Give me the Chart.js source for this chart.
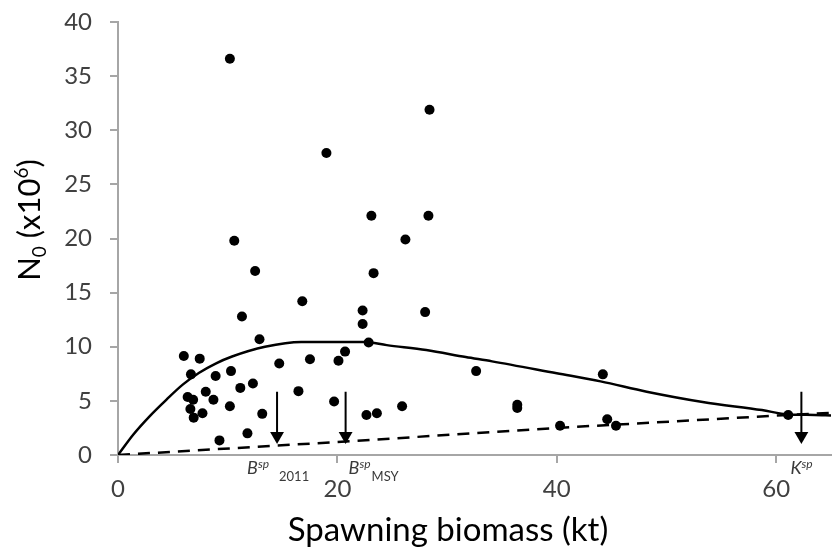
<!DOCTYPE html>
<html>
<head>
<meta charset="utf-8">
<script src="https://cdn.jsdelivr.net/npm/chart.js@4"></script>
<style>
html,body{margin:0;padding:0;background:#fff;overflow:hidden;}
canvas{display:block;}
</style>
</head>
<body>
<canvas id="c" width="839" height="553"></canvas>
<script>
// ---- data ----
const scatterX = [10.2, 28.4, 19.0, 23.1, 28.3, 10.6, 26.2, 12.5, 23.3, 16.8, 11.3, 22.3, 22.3, 28.0, 12.9, 22.85,
  6.0, 7.45, 6.65, 20.7, 20.1, 17.5, 14.7, 8.9, 10.3, 12.3, 11.15, 6.35, 6.85, 8.0, 8.7, 6.6, 7.7, 6.9, 10.2, 13.15,
  16.45, 19.7, 22.65, 23.6, 25.9, 11.8, 9.25, 32.65, 36.4, 36.4, 40.3, 44.2, 44.6, 45.4, 61.1];
const scatterY = [36.6, 31.9, 27.9, 22.1, 22.1, 19.8, 19.9, 17.0, 16.8, 14.2, 12.8, 13.35, 12.1, 13.2, 10.7, 10.4,
  9.15, 8.9, 7.45, 9.55, 8.7, 8.85, 8.45, 7.3, 7.75, 6.6, 6.2, 5.35, 5.1, 5.85, 5.1, 4.25, 3.85, 3.45, 4.5, 3.8,
  5.9, 4.95, 3.7, 3.85, 4.5, 2.0, 1.35, 7.75, 4.35, 4.65, 2.7, 7.45, 3.3, 2.7, 3.7];

const curveX = [0, 1.4, 2.9, 4.4, 5.9, 7.4, 8.9, 10.4, 13.4, 16.7, 22.5, 24.5, 28.1, 31.7, 34.1, 40, 44, 48.2, 53.3, 58.7, 61.1, 63.5, 65];
const curveY = [0, 1.9, 3.6, 5.1, 6.5, 7.6, 8.45, 9.1, 10.0, 10.45, 10.45, 10.15, 9.7, 9.05, 8.65, 7.55, 6.8, 5.85, 4.9, 4.15, 3.75, 3.7, 3.65];

const refLineX = [0, 20, 40, 61.1, 65];
const refLineY = [0, 1.2, 2.5, 3.7, 3.9];

const arrowX = [14.5, 20.75, 62.3];
const arrowTop = 5.85;
const arrowHead = 1.75;
const arrowLabelMain = ['B', 'B', 'K'];
const arrowLabelSup = ['sp', 'sp', 'sp'];
const arrowLabelSub = ['2011', 'MSY', ''];

const xTicks = [0, 20, 40, 60];
const yTicks = [0, 5, 10, 15, 20, 25, 30, 35, 40];

const xTitle = 'Spawning biomass (kt)';
const yTitleMain = 'N';
const yTitleSub = '0';
const yTitleMid = ' (x10';
const yTitleSup = '6';
const yTitleEnd = ')';

// ---- chart ----
const FONT = "Lato, 'Noto Sans', sans-serif";
const AXIS = '#a6a6a6';
const TICKCOL = '#404040';

function pts(xs, ys) { return xs.map((x, i) => ({ x: x, y: ys[i] })); }

const arrowDatasets = arrowX.map(x => ({
  type: 'line',
  data: [{ x: x, y: arrowTop }, { x: x, y: arrowHead }],
  borderColor: '#000',
  backgroundColor: '#000',
  borderWidth: 2,
  pointStyle: 'triangle',
  rotation: 180,
  pointRadius: [0, 8],
  pointBorderWidth: 0,
  order: 1
}));

function runsWidth(ctx, runs) {
  let w = 0;
  runs.forEach(r => { ctx.font = (r.italic ? 'italic ' : '') + r.size + 'px ' + FONT; w += ctx.measureText(r.t).width + (r.gap || 0); });
  return w;
}
function drawRuns(ctx, runs, x, y) {
  let cx = x;
  runs.forEach(r => {
    ctx.font = (r.italic ? 'italic ' : '') + r.size + 'px ' + FONT;
    ctx.fillText(r.t, cx, y + (r.dy || 0));
    cx += ctx.measureText(r.t).width + (r.gap || 0);
  });
}

const decor = {
  id: 'decor',
  beforeDraw(chart) {
    const ctx = chart.ctx;
    ctx.save();
    ctx.fillStyle = '#fff';
    ctx.fillRect(0, 0, chart.width, chart.height);
    ctx.restore();
  },
  afterDraw(chart) {
    const ctx = chart.ctx;
    const ca = chart.chartArea;
    const xs = chart.scales.x;
    ctx.save();
    ctx.fillStyle = '#000';
    ctx.textAlign = 'center';
    ctx.textBaseline = 'middle';
    ctx.font = '33px ' + FONT;
    ctx.fillText(xTitle, ca.left + 330, ca.bottom + 75);

    // y title
    ctx.textAlign = 'left';
    ctx.textBaseline = 'alphabetic';
    const yRuns = [
      { t: yTitleMain, size: 31 },
      { t: yTitleSub, size: 19, dy: 6 },
      { t: yTitleMid, size: 31 },
      { t: yTitleSup, size: 19, dy: -12 },
      { t: yTitleEnd, size: 31 }
    ];
    const w = runsWidth(ctx, yRuns);
    ctx.translate(40, 220);
    ctx.rotate(-Math.PI / 2);
    drawRuns(ctx, yRuns, -w / 2, 0);
    ctx.restore();

    // arrow labels
    ctx.save();
    ctx.fillStyle = '#3a3a3a';
    ctx.textBaseline = 'alphabetic';
    const offs = [-30, 3, -11];
    const gaps = [10, 1, 0];
    arrowX.forEach((v, i) => {
      const px = xs.getPixelForValue(v) + offs[i];
      const runs = [
        { t: arrowLabelMain[i], size: 18, italic: true },
        { t: arrowLabelSup[i], size: 12, italic: true, dy: -6, gap: gaps[i] },
        { t: arrowLabelSub[i], size: 13, dy: 7 }
      ];
      drawRuns(ctx, runs, px, ca.bottom + 19);
    });
    ctx.restore();
  }
};

new Chart(document.getElementById('c'), {
  type: 'scatter',
  data: {
    datasets: [
      {
        type: 'scatter',
        data: pts(scatterX, scatterY),
        backgroundColor: '#000',
        borderColor: '#000',
        pointRadius: 5,
        pointBorderWidth: 0,
        order: 0
      },
      {
        type: 'line',
        data: pts(curveX, curveY),
        borderColor: '#000',
        borderWidth: 2.5,
        pointRadius: 0,
        cubicInterpolationMode: 'monotone',
        fill: false,
        order: 2
      },
      {
        type: 'line',
        data: pts(refLineX, refLineY),
        borderColor: '#000',
        borderWidth: 2.5,
        borderDash: [12, 8],
        pointRadius: 0,
        fill: false,
        order: 3
      },
      ...arrowDatasets
    ]
  },
  options: {
    responsive: false,
    animation: false,
    devicePixelRatio: 1,
    layout: { padding: { top: 22, right: 0, left: 0, bottom: 0 } },
    plugins: { legend: { display: false }, tooltip: { enabled: false } },
    scales: {
      x: {
        type: 'linear',
        min: 0,
        max: 65,
        afterBuildTicks: s => { s.ticks = xTicks.map(v => ({ value: v })); },
        afterFit: s => { s.height = 98; s.paddingLeft = 0; s.paddingRight = 0; },
        grid: { drawOnChartArea: false, drawTicks: true, tickLength: 8, color: AXIS, lineWidth: 2 },
        border: { color: AXIS, width: 2 },
        ticks: { color: TICKCOL, font: { family: FONT, size: 24 }, padding: 12, maxRotation: 0 }
      },
      y: {
        type: 'linear',
        min: 0,
        max: 40,
        afterBuildTicks: s => { s.ticks = yTicks.map(v => ({ value: v })); },
        afterFit: s => { s.width = 118; s.paddingTop = 0; s.paddingBottom = 0; },
        grid: { drawOnChartArea: false, drawTicks: true, tickLength: 8, color: AXIS, lineWidth: 2 },
        border: { color: AXIS, width: 2 },
        ticks: { color: TICKCOL, font: { family: FONT, size: 24 }, padding: 18 }
      }
    }
  },
  plugins: [decor]
});
</script>
</body>
</html>
